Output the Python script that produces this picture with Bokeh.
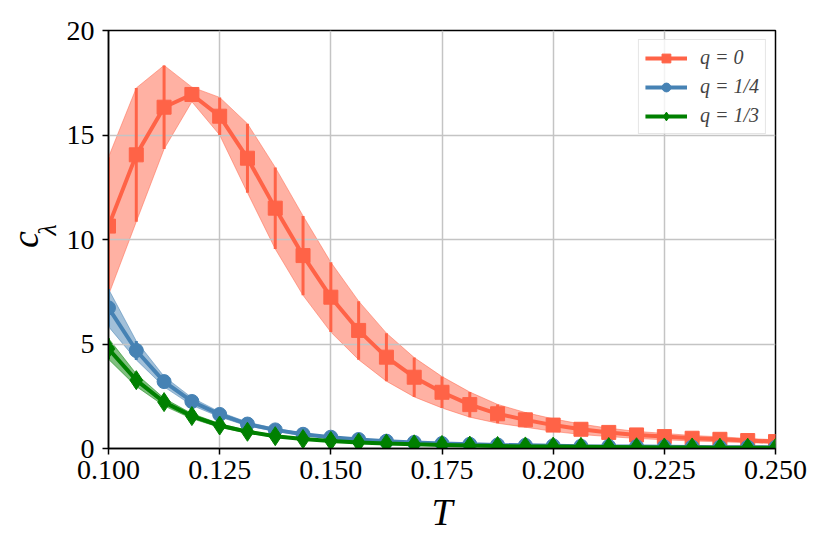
from bokeh.plotting import figure
from bokeh.models import Range1d, FixedTicker, PrintfTickFormatter, LinearAxis
from bokeh.embed import file_html
from bokeh.resources import INLINE
import numpy as np

T = [0.1, 0.10625, 0.1125, 0.11875, 0.125, 0.13125, 0.1375, 0.14375, 0.15,
     0.15625, 0.1625, 0.16875, 0.175, 0.18125, 0.1875, 0.19375, 0.2, 0.20625,
     0.2125, 0.21875, 0.225, 0.23125, 0.2375, 0.24375, 0.25]

c_q0 = [10.64, 14.05, 16.33, 16.94, 15.9, 13.89, 11.5, 9.23, 7.24, 5.65, 4.37,
        3.41, 2.69, 2.1, 1.66, 1.37, 1.12, 0.92, 0.77, 0.65, 0.57, 0.49, 0.44,
        0.38, 0.33]
e_q0 = [3.3, 3.2, 2.0, 0.35, 0.9, 1.65, 1.95, 1.9, 1.67, 1.4, 1.15, 0.94, 0.75,
        0.6, 0.45, 0.35, 0.3, 0.25, 0.2, 0.17, 0.15, 0.13, 0.12, 0.1, 0.09]

c_q14 = [6.73, 4.69, 3.2, 2.25, 1.63, 1.17, 0.89, 0.68, 0.54, 0.43, 0.35, 0.29,
         0.24, 0.2, 0.17, 0.15, 0.13, 0.11, 0.1, 0.09, 0.08, 0.07, 0.06, 0.06,
         0.05]
e_q14 = [0.9, 0.45, 0.25, 0.18, 0.12, 0.09, 0.07, 0.05, 0.04, 0.03, 0.03, 0.02,
         0.02, 0.02, 0.02, 0.01, 0.01, 0.01, 0.01, 0.01, 0.01, 0.01, 0.01, 0.01,
         0.01]

c_q13 = [4.77, 3.27, 2.22, 1.55, 1.1, 0.8, 0.59, 0.45, 0.36, 0.29, 0.24, 0.2,
         0.17, 0.14, 0.12, 0.1, 0.09, 0.08, 0.07, 0.06, 0.05, 0.05, 0.04, 0.04,
         0.03]
e_q13 = [0.5, 0.3, 0.18, 0.12, 0.09, 0.06, 0.05, 0.04, 0.03, 0.02, 0.02, 0.02,
         0.01, 0.01, 0.01, 0.01, 0.01, 0.01, 0.01, 0.01, 0.01, 0.01, 0.01, 0.01,
         0.01]

labels = ["q = 0", "q = 1/4", "q = 1/3"]
colors = ["#ff6347", "#4682b4", "#008000"]
markers = ["square", "circle", "diamond"]
x_ticks = [0.1, 0.125, 0.15, 0.175, 0.2, 0.225, 0.25]
y_ticks = [0, 5, 10, 15, 20]

FONT = "Liberation Serif"

p = figure(width=814, height=546, output_backend="svg", toolbar_location=None,
           x_range=Range1d(0.1, 0.25), y_range=Range1d(0, 20),
           min_border_left=100, min_border_right=39, min_border_top=30,
           min_border_bottom=98)
p.background_fill_color = "white"
p.border_fill_color = "white"
p.outline_line_color = "black"
p.outline_line_width = 1.5

for ax in (p.xaxis[0], p.yaxis[0]):
    ax.axis_line_color = "black"
    ax.axis_line_width = 1.5
    ax.major_tick_line_color = "black"
    ax.major_tick_line_width = 1.5
    ax.major_tick_out = 6
    ax.major_tick_in = 0
    ax.minor_tick_line_color = None
    ax.major_label_text_font = FONT
    ax.major_label_text_font_size = "28px"
    ax.major_label_text_color = "black"
    ax.axis_label_text_font = FONT
    ax.axis_label_text_font_style = "italic"
    ax.axis_label_text_color = "black"

p.xaxis.ticker = FixedTicker(ticks=x_ticks)
p.xaxis.formatter = PrintfTickFormatter(format="%.3f")
p.yaxis.ticker = FixedTicker(ticks=y_ticks)
p.xaxis.major_label_standoff = 6
p.yaxis.major_label_standoff = 8
p.xaxis.axis_label = "T"
p.xaxis.axis_label_text_font_size = "38px"
p.xaxis.axis_label_standoff = 9

# subscript lambda sits on the inner axis label, "c" on an outer label-only axis
p.yaxis.axis_label = "\u00a0\u00a0\u00a0λ"
p.yaxis.axis_label_text_font_size = "26px"
p.yaxis.axis_label_standoff = 2

outer = LinearAxis(ticker=FixedTicker(ticks=[]), axis_label="c",
                   axis_line_color=None, major_tick_line_color=None,
                   minor_tick_line_color=None, major_label_text_font_size="0px",
                   axis_label_text_font=FONT, axis_label_text_font_style="italic",
                   axis_label_text_font_size="38px", axis_label_text_color="black",
                   axis_label_standoff=-16)
p.add_layout(outer, "left")

p.grid.grid_line_color = "#c4c4c4"
p.grid.grid_line_width = 1.5
p.xgrid.ticker = FixedTicker(ticks=x_ticks)
p.ygrid.ticker = FixedTicker(ticks=y_ticks)

series = [(c_q0, e_q0), (c_q14, e_q14), (c_q13, e_q13)]
for (vals, errs), col in zip(series, colors):
    v = np.array(vals)
    e = np.array(errs)
    lo = v - e
    hi = v + e
    p.varea(x=T, y1=lo, y2=hi, fill_color=col, fill_alpha=0.5, level="image")
    p.line(T, lo, line_color=col, line_alpha=0.5, line_width=1, level="image")
    p.line(T, hi, line_color=col, line_alpha=0.5, line_width=1, level="image")

for (vals, errs), col, mk, lab in zip(series, colors, markers, labels):
    v = np.array(vals)
    e = np.array(errs)
    p.segment(x0=T, y0=v - e, x1=T, y1=v + e, line_color=col, line_width=3)
    p.line(T, vals, line_color=col, line_width=4, legend_label=lab)
    if mk == "diamond":
        p.scatter(T, vals, marker=mk, size=19, fill_color=col, line_color=col,
                  legend_label=lab)
    else:
        p.scatter(T, vals, marker=mk, size=14, fill_color=col, line_color=col,
                  legend_label=lab)

lg = p.legend[0]
lg.location = "top_right"
lg.margin = 9
lg.padding = 6
lg.spacing = 6
lg.glyph_width = 42
lg.glyph_height = 22
lg.label_height = 22
lg.label_standoff = 13
lg.label_text_font = FONT
lg.label_text_font_style = "italic"
lg.label_text_font_size = "20px"
lg.border_line_color = "#cccccc"
lg.border_line_width = 1.5
lg.background_fill_alpha = 0.8

open("out.html", "w").write(file_html(p, INLINE))
